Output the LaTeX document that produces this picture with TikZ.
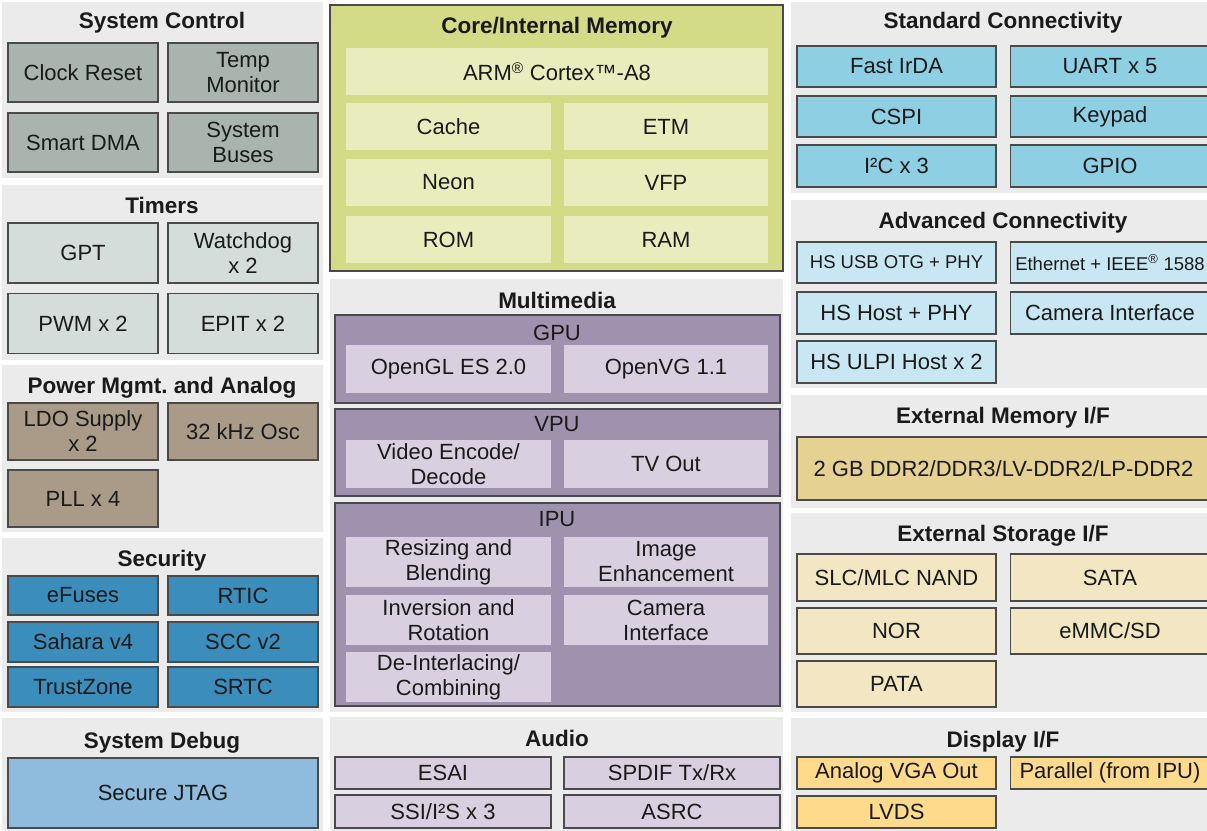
\documentclass[tikz,border=0pt]{standalone}
\usepackage{fontspec}
\setmainfont{Liberation Sans}
\definecolor{panelbg}{HTML}{EBEBEB}
\definecolor{edge}{HTML}{4A4A4A}
\definecolor{ink}{HTML}{1A1A1A}
\definecolor{sysc}{HTML}{A8B4AD}
\definecolor{tmr}{HTML}{D5DDDA}
\definecolor{pwr}{HTML}{AA9B89}
\definecolor{sec}{HTML}{3B8EBB}
\definecolor{dbg}{HTML}{8FBCDC}
\definecolor{stdc}{HTML}{8ECFE3}
\definecolor{advc}{HTML}{C9E7F2}
\definecolor{dram}{HTML}{E5D192}
\definecolor{stor}{HTML}{F2E6C3}
\definecolor{disp}{HTML}{FDDA8C}
\definecolor{coreout}{HTML}{D3DB86}
\definecolor{corein}{HTML}{E9EDBE}
\definecolor{mmout}{HTML}{9F92AE}
\definecolor{mmin}{HTML}{D8D0E1}
\begin{document}
\begin{tikzpicture}[x=1pt,y=-1pt,
  panel/.style={fill=panelbg},
  ttl/.style={font=\bfseries\fontsize{22.5}{25}\selectfont, text=ink, inner sep=0pt,
    text height=16pt, text depth=0pt},
  sub/.style={ttl, font=\fontsize{22}{25}\selectfont},
  blk/.style={draw=edge, line width=1.4pt, align=center, text=ink, inner sep=0pt,
    font=\fontsize{22}{25}\selectfont},
  flat/.style={align=center, text=ink, inner sep=0pt, font=\fontsize{22}{25}\selectfont},
  small/.style={font=\fontsize{18.5}{22}\selectfont},
  wl/.style={minimum width=150pt},
  wr/.style={minimum width=199pt},
  wc/.style={minimum width=205pt},
  wa/.style={minimum width=216pt},
]
\useasboundingbox (0,0) rectangle (1207,830);
\clip (0,0) rectangle (1207,830);
\fill[white] (0,0) rectangle (1207,830);

% ---------- left column panels ----------
\fill[panel] (2,2) rectangle (323,178);
\fill[panel] (2,185) rectangle (323,360);
\fill[panel] (2,365) rectangle (323,532);
\fill[panel] (2,538) rectangle (323,712);
\fill[panel] (2,718) rectangle (323,832);

\node[ttl] (tsys) at (162,20) {System Control};
\node[blk,wl,fill=sysc,minimum height=59pt] (clk)  at (83,72.5)  {Clock Reset};
\node[blk,wl,fill=sysc,minimum height=59pt] (temp) at (243,72.5) {Temp\\Monitor};
\node[blk,wl,fill=sysc,minimum height=59pt] (dma)  at (83,142.5) {Smart DMA};
\node[blk,wl,fill=sysc,minimum height=59pt] (bus)  at (243,142.5) {System\\Buses};

\node[ttl] (ttmr) at (162,205) {Timers};
\node[blk,wl,fill=tmr,minimum height=60pt] (gpt)  at (83,253)  {GPT};
\node[blk,wl,fill=tmr,minimum height=60pt] (wdog) at (243,253) {Watchdog\\x 2};
\node[blk,wl,fill=tmr,minimum height=60pt] (pwm)  at (83,323.5) {PWM x 2};
\node[blk,wl,fill=tmr,minimum height=60pt] (epit) at (243,323.5) {EPIT x 2};

\node[ttl] (tpwr) at (162,385) {Power Mgmt.\ and Analog};
\node[blk,wl,fill=pwr,minimum height=57pt] (ldo) at (83,431.5)  {LDO Supply\\x 2};
\node[blk,wl,fill=pwr,minimum height=57pt] (osc) at (243,431.5) {32 kHz Osc};
\node[blk,wl,fill=pwr,minimum height=57pt] (pll) at (83,498.5)  {PLL x 4};

\node[ttl] (tsec) at (162,558) {Security};
\node[blk,wl,fill=sec,minimum height=39pt] (efuse)  at (83,595.5)  {eFuses};
\node[blk,wl,fill=sec,minimum height=39pt] (rtic)   at (243,595.5) {RTIC};
\node[blk,wl,fill=sec,minimum height=40pt] (sahara) at (83,642)    {Sahara v4};
\node[blk,wl,fill=sec,minimum height=40pt] (scc)    at (243,642)   {SCC v2};
\node[blk,wl,fill=sec,minimum height=40pt] (tz)     at (83,687)    {TrustZone};
\node[blk,wl,fill=sec,minimum height=40pt] (srtc)   at (243,687)   {SRTC};

\node[ttl] (tdbg) at (162,740) {System Debug};
\node[blk,fill=dbg,minimum width=310pt,minimum height=70pt] (jtag) at (163,793) {Secure JTAG};

% ---------- middle column ----------
\node[draw=edge,line width=1.8pt,fill=coreout,minimum width=453pt,minimum height=266pt,inner sep=0pt] (core) at (556.5,138) {};
\node[ttl] (tcore) at (557,25) {Core/Internal Memory};
\node[flat,fill=corein,minimum width=422pt,minimum height=47pt] (arm) at (557,71.5) {ARM\textsuperscript{®} Cortex™-A8};
\node[flat,wc,fill=corein,minimum height=47pt] (cache) at (448.5,126.5) {Cache};
\node[flat,fill=corein,minimum width=204pt,minimum height=47pt] (etm) at (666,126.5) {ETM};
\node[flat,wc,fill=corein,minimum height=47pt] (neon) at (448.5,182.5) {Neon};
\node[flat,fill=corein,minimum width=204pt,minimum height=47pt] (vfp) at (666,182.5) {VFP};
\node[flat,wc,fill=corein,minimum height=47pt] (rom) at (448.5,239.5) {ROM};
\node[flat,fill=corein,minimum width=204pt,minimum height=47pt] (ram) at (666,239.5) {RAM};

\fill[panel] (330,279) rectangle (783,712);
\node[ttl] (tmm) at (557,300) {Multimedia};

\node[draw=edge,line width=1.4pt,fill=mmout,minimum width=445pt,minimum height=88pt,inner sep=0pt] (gpu) at (557.5,359) {};
\node[sub] (tgpu) at (557,332) {GPU};
\node[flat,wc,fill=mmin,minimum height=48pt] (ogl) at (448.5,369) {OpenGL ES 2.0};
\node[flat,fill=mmin,minimum width=204pt,minimum height=48pt] (ovg) at (666,369) {OpenVG 1.1};

\node[draw=edge,line width=1.4pt,fill=mmout,minimum width=445pt,minimum height=87pt,inner sep=0pt] (vpu) at (557.5,452.5) {};
\node[sub] (tvpu) at (557,423) {VPU};
\node[flat,wc,fill=mmin,minimum height=48pt] (venc) at (448.5,464) {Video Encode/\\Decode};
\node[flat,fill=mmin,minimum width=204pt,minimum height=48pt] (tvo) at (666,464) {TV Out};

\node[draw=edge,line width=1.4pt,fill=mmout,minimum width=445pt,minimum height=203pt,inner sep=0pt] (ipu) at (557.5,604.5) {};
\node[sub] (tipu) at (557,518) {IPU};
\node[flat,wc,fill=mmin,minimum height=50pt] (rsz) at (448.5,562) {Resizing and\\Blending};
\node[flat,fill=mmin,minimum width=204pt,minimum height=50pt] (ienh) at (666,562) {Image\\Enhancement};
\node[flat,wc,fill=mmin,minimum height=50pt] (inv) at (448.5,620) {Inversion and\\Rotation};
\node[flat,fill=mmin,minimum width=204pt,minimum height=50pt] (camif) at (666,620) {Camera\\Interface};
\node[flat,wc,fill=mmin,minimum height=50pt] (deint) at (448.5,677) {De-Interlacing/\\Combining};

\fill[panel] (330,717) rectangle (783,832);
\node[ttl] (taud) at (557,738) {Audio};
\node[blk,wa,fill=mmin,minimum height=32pt] (esai)  at (443,773)   {ESAI};
\node[blk,wa,fill=mmin,minimum height=32pt] (spdif) at (672,773)   {SPDIF Tx/Rx};
\node[blk,wa,fill=mmin,minimum height=33pt] (ssi)   at (443,811.5) {SSI/I²S x 3};
\node[blk,wa,fill=mmin,minimum height=33pt] (asrc)  at (672,811.5) {ASRC};

% ---------- right column ----------
\fill[panel] (791,2) rectangle (1215,193);
\fill[panel] (791,200) rectangle (1215,388);
\fill[panel] (791,395) rectangle (1215,508);
\fill[panel] (791,513) rectangle (1215,712);
\fill[panel] (791,718) rectangle (1215,832);

\node[ttl] (tstd) at (1003,20) {Standard Connectivity};
\node[blk,wr,fill=stdc,minimum height=41pt] (irda)   at (896.5,66.5) {Fast IrDA};
\node[blk,wr,fill=stdc,minimum height=41pt] (uart)   at (1110,66.5)  {UART x 5};
\node[blk,wr,fill=stdc,minimum height=41pt] (cspi)   at (896.5,116.5) {CSPI};
\node[blk,wr,fill=stdc,minimum height=41pt] (keypad) at (1110,116.5) {Keypad};
\node[blk,wr,fill=stdc,minimum height=42pt] (i2c)    at (896.5,166)  {I²C x 3};
\node[blk,wr,fill=stdc,minimum height=42pt] (gpio)   at (1110,166)   {GPIO};

\node[ttl] (tadv) at (1003,220) {Advanced Connectivity};
\node[blk,wr,fill=advc,minimum height=41pt,small] (usb) at (896.5,262.5) {HS USB OTG + PHY};
\node[blk,wr,fill=advc,minimum height=41pt,small] (eth) at (1110,262.5) {Ethernet + IEEE\textsuperscript{®} 1588};
\node[blk,wr,fill=advc,minimum height=42pt] (hshost) at (896.5,313) {HS Host + PHY};
\node[blk,wr,fill=advc,minimum height=42pt] (cam)    at (1110,313)  {Camera Interface};
\node[blk,wr,fill=advc,minimum height=42pt] (ulpi)   at (896.5,362) {HS ULPI Host x 2};

\node[ttl] (tmem) at (1003,415) {External Memory I/F};
\node[blk,fill=dram,minimum width=413pt,minimum height=63pt] (ddr) at (1003.5,468.5) {2 GB DDR2/DDR3/LV-DDR2/LP-DDR2};

\node[ttl] (tsto) at (1003,533) {External Storage I/F};
\node[blk,wr,fill=stor,minimum height=47pt] (slc)  at (896.5,577.5) {SLC/MLC NAND};
\node[blk,wr,fill=stor,minimum height=47pt] (sata) at (1110,577.5)  {SATA};
\node[blk,wr,fill=stor,minimum height=46pt] (nor)  at (896.5,631)   {NOR};
\node[blk,wr,fill=stor,minimum height=46pt] (emmc) at (1110,631)    {eMMC/SD};
\node[blk,wr,fill=stor,minimum height=46pt] (pata) at (896.5,684)   {PATA};

\node[ttl] (tdsp) at (1003,739) {Display I/F};
\node[blk,wr,fill=disp,minimum height=32pt] (vga)  at (896.5,773) {Analog VGA Out};
\node[blk,wr,fill=disp,minimum height=32pt] (par)  at (1110,773)  {Parallel (from IPU)};
\node[blk,wr,fill=disp,minimum height=32pt] (lvds) at (896.5,812) {LVDS};
\end{tikzpicture}
\end{document}
